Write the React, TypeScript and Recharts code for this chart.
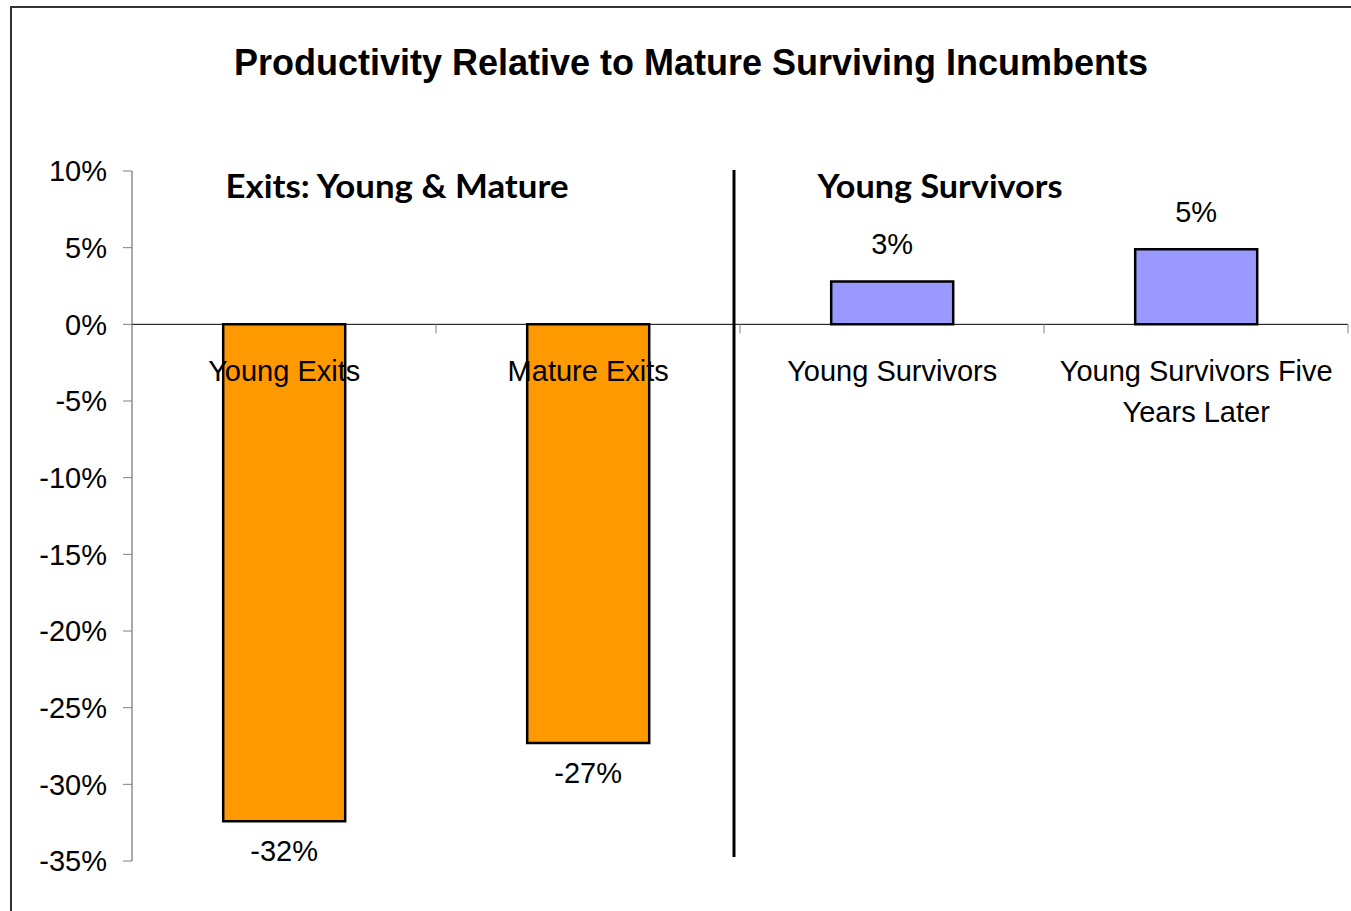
import { BarChart, Bar, XAxis, YAxis, ReferenceLine, LabelList, Cell } from "recharts";

const categories = [
  "Young Exits",
  "Mature Exits",
  "Young Survivors",
  "Young Survivors Five Years Later",
];
const productivity = [-32.4, -27.3, 2.8, 4.9];
const barColors = ["#FF9900", "#FF9900", "#9999FF", "#9999FF"];
const yTicks = [10, 5, 0, -5, -10, -15, -20, -25, -30, -35];
const groupTitles = ["Exits: Young & Mature", "Young Survivors"];

const data = categories.map((name, i) => ({ name, value: productivity[i] }));

const W = 1351;
const H = 911;
const MARGIN = { top: 171, right: 3, bottom: 50, left: 0 };
const Y_AXIS_W = 132;
const FONT = "'Liberation Sans', Arial, sans-serif";

// plot box, derived from the chart margins above
const plotX = MARGIN.left + Y_AXIS_W;
const plotW = W - plotX - MARGIN.right;
const plotH = H - MARGIN.top - MARGIN.bottom;
const bandW = plotW / categories.length;
const yMax = yTicks[0];
const yMin = yTicks[yTicks.length - 1];
const zeroY = MARGIN.top + (plotH * yMax) / (yMax - yMin);

function wrap(text: string, maxChars: number) {
  const lines: string[] = [];
  let line = "";
  for (const word of text.split(" ")) {
    const next = line ? line + " " + word : word;
    if (next.length > maxChars && line) {
      lines.push(line);
      line = word;
    } else {
      line = next;
    }
  }
  if (line) lines.push(line);
  return lines;
}

// value label beyond the bar end, category name just under the zero line
function BarLabels(props: any) {
  const { x, y, width, height, index } = props;
  const v = productivity[index];
  const top = Math.min(y, y + height);
  const bottom = Math.max(y, y + height);
  const cx = x + width / 2;
  const zero = v < 0 ? top : bottom;
  const valueY = v < 0 ? bottom + 40 : top - 27;
  const lines = wrap(categories[index], 22);
  return (
    <g>
      <text x={cx} y={valueY} textAnchor="middle" fontFamily={FONT} fontSize={29} fill="#000">
        {Math.round(v)}%
      </text>
      {lines.map((l, i) => (
        <text
          key={l}
          x={cx}
          y={zero + 57 + i * 41}
          textAnchor="middle"
          fontFamily={FONT}
          fontSize={29}
          fill="#000"
        >
          {l}
        </text>
      ))}
    </g>
  );
}

function Overlay() {
  const divX = plotX + bandW * 2 - 6;
  const titleSpots = [
    { x: 397, len: 343 },
    { x: 940, len: 245 },
  ];
  return (
    <svg
      width={W}
      height={H}
      style={{ position: "absolute", left: 0, top: 0, pointerEvents: "none" }}
    >
      <text
        x={691}
        y={75}
        textAnchor="middle"
        fontFamily={FONT}
        fontWeight="bold"
        fontSize={36}
        fill="#000"
      >
        Productivity Relative to Mature Surviving Incumbents
      </text>
      {categories.map((_, i) => (
        <line
          key={i}
          x1={plotX + bandW * (i + 1)}
          x2={plotX + bandW * (i + 1)}
          y1={zeroY}
          y2={zeroY + 9}
          stroke="#808080"
          strokeWidth={1}
        />
      ))}
      <line x1={divX} x2={divX} y1={170} y2={857} stroke="#000" strokeWidth={3} />
      {groupTitles.map((t, i) => (
        <text
          key={t}
          x={titleSpots[i].x}
          y={198}
          textAnchor="middle"
          fontFamily="Lato, 'Open Sans', sans-serif"
          fontWeight="bold"
          fontSize={33}
          textLength={titleSpots[i].len}
          lengthAdjust="spacingAndGlyphs"
          fill="#000"
        >
          {t}
        </text>
      ))}
    </svg>
  );
}

export default function App() {
  return (
    <div
      style={{
        position: "absolute",
        left: 0,
        top: 0,
        width: W,
        height: H,
        overflow: "hidden",
        background: "#fff",
      }}
    >
      <div
        style={{
          position: "absolute",
          left: 10,
          top: 6,
          width: W + 40,
          height: H + 40,
          borderLeft: "2px solid #333",
          borderTop: "2px solid #333",
        }}
      />
      <div style={{ position: "absolute", left: 0, top: 0 }}>
        <BarChart width={W} height={H} data={data} margin={MARGIN} barCategoryGap="30%">
          <XAxis dataKey="name" hide />
          <YAxis
            width={Y_AXIS_W}
            domain={[yMin, yMax]}
            ticks={yTicks}
            interval={0}
            tickFormatter={(v: number) => `${v}%`}
            tick={{ fill: "#000", fontSize: 29, fontFamily: FONT }}
            tickSize={9}
            tickMargin={16}
            tickLine={{ stroke: "#808080" }}
            axisLine={{ stroke: "#555" }}
          />
          <ReferenceLine y={0} stroke="#000" strokeWidth={1} />
          <Bar dataKey="value" stroke="#000" strokeWidth={2.5} isAnimationActive={false}>
            {data.map((d, i) => (
              <Cell key={d.name} fill={barColors[i]} />
            ))}
            <LabelList dataKey="value" content={BarLabels} />
          </Bar>
        </BarChart>
      </div>
      <Overlay />
    </div>
  );
}
